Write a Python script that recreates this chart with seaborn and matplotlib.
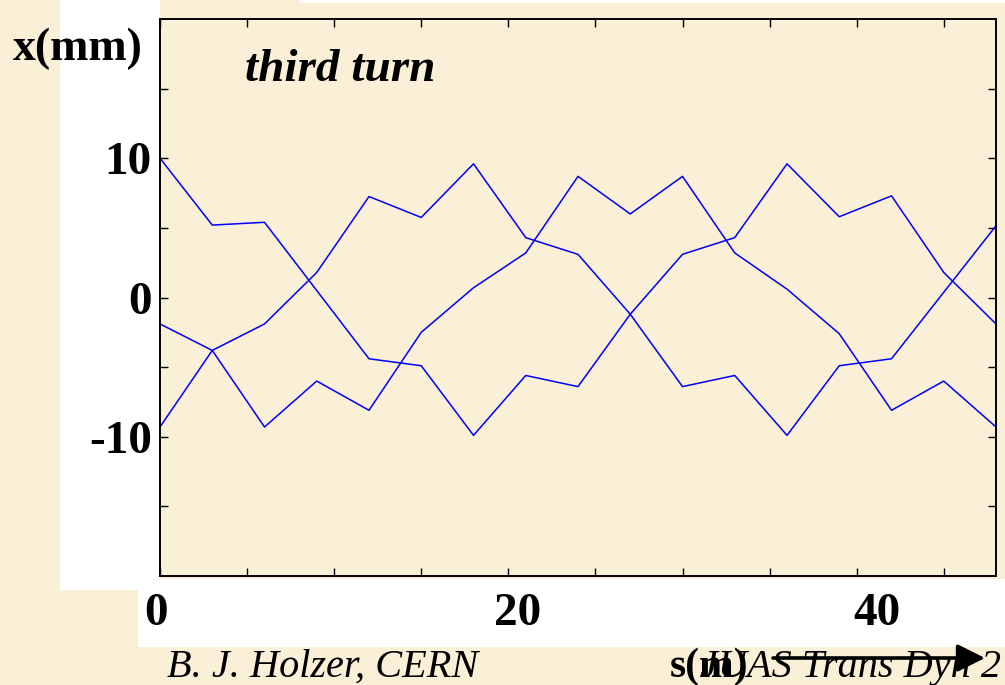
import numpy as np
import pandas as pd
import seaborn as sns
import matplotlib
matplotlib.use("Agg")
import matplotlib.pyplot as plt
from matplotlib.patches import Rectangle
from matplotlib.transforms import ScaledTranslation

# ---- data ----
s_traj1 = [0, 3, 6, 12, 15, 18, 21, 24, 27, 30, 33, 36, 39, 42, 45, 48]
x_traj1 = [10, 5.2, 5.4, -4.4, -4.9, -9.9, -5.6, -6.4, -1.2, 3.1, 4.3, 9.6, 5.8, 7.3, 1.8, -1.9]

s_traj2 = [0, 3, 6, 9, 12, 15, 18, 21, 24, 27, 30, 33, 36, 39, 42, 48]
x_traj2 = [-1.9, -3.8, -1.9, 1.8, 7.25, 5.75, 9.6, 4.3, 3.1, -1.2, -6.4, -5.6, -9.9, -4.9, -4.4, 5.15]

s_traj3 = [0, 3, 6, 9, 12, 15, 18, 21, 24, 27, 30, 33, 36, 39, 42, 45, 48]
x_traj3 = [-9.3, -3.8, -9.3, -6.0, -8.1, -2.5, 0.7, 3.2, 8.7, 6.0, 8.7, 3.2, 0.6, -2.6, -8.1, -6.0, -9.3]

x_ticks = [0, 5, 10, 15, 20, 25, 30, 35, 40, 45]
x_ticklabels = ["0", "", "", "", "20", "", "", "", "40", ""]
y_ticks = [-15, -10, -5, 0, 5, 10, 15]
y_ticklabels = ["", "-10", "", "0", "", "10", ""]

title_text = "third turn"
ylabel_text = "x(mm)"
xlabel_text = "s(m)"
footer_left = "B. J. Holzer, CERN"
footer_right = "JUAS Trans Dyn 2"

df = pd.concat([
    pd.DataFrame({"s": s_traj1, "x": x_traj1, "traj": "t1"}),
    pd.DataFrame({"s": s_traj2, "x": x_traj2, "traj": "t2"}),
    pd.DataFrame({"s": s_traj3, "x": x_traj3, "traj": "t3"}),
], ignore_index=True)

# ---- style ----
sns.set_theme(style="ticks")
plt.rcParams["font.family"] = ["Liberation Serif", "DejaVu Serif"]
plt.rcParams["text.color"] = "black"
plt.rcParams["xtick.color"] = "black"
plt.rcParams["ytick.color"] = "black"
plt.rcParams["axes.edgecolor"] = "black"

BG = "#FAF0D7"
W, H = 1005, 685
fig = plt.figure(figsize=(W / 100, H / 100), dpi=100, facecolor=BG)

def fx(px):
    return px / W

def fy(py):
    return 1 - py / H

# white blocks behind labels (drawn below the axes)
for (x0, y0, x1, y1) in [(60, 0, 160, 590), (138, 579, 1005, 647), (300, 0, 1005, 3)]:
    fig.patches.append(Rectangle((fx(x0), fy(y1)), fx(x1) - fx(x0), fy(y0) - fy(y1),
                                 transform=fig.transFigure, facecolor="white",
                                 edgecolor="none", zorder=-5))

ax = fig.add_axes([fx(160), fy(576), fx(996) - fx(160), fy(19) - fy(576)])
ax.set_facecolor(BG)
ax.set_zorder(2)

sns.lineplot(data=df, x="s", y="x", hue="traj", units="traj", estimator=None, sort=False,
             palette=["#0000FF"] * 3, linewidth=1.1, legend=False, ax=ax)

ax.set_xlim(0, 48)
ax.set_ylim(-20, 20)
ax.set_xlabel("")
ax.set_ylabel("")

ax.set_xticks(x_ticks)
ax.set_xticklabels(x_ticklabels)
ax.set_yticks(y_ticks)
ax.set_yticklabels(y_ticklabels)

ax.tick_params(axis="both", direction="in", length=6, width=1.0, color="black",
               top=True, right=True, labelsize=34, labelcolor="black")
ax.tick_params(axis="x", pad=12.5)
ax.tick_params(axis="y", pad=6)
for lab in ax.get_xticklabels() + ax.get_yticklabels():
    lab.set_fontweight("bold")

for sp in ax.spines.values():
    sp.set_visible(True)
    sp.set_linewidth(1.4)
    sp.set_color("black")

# shift x tick labels slightly as in the reference
offsets_px = {"0": -4, "20": 9, "40": 20}
for tick in ax.xaxis.get_major_ticks():
    t = tick.label1.get_text()
    if t in offsets_px:
        tick.label1.set_transform(tick.label1.get_transform()
                                  + ScaledTranslation(offsets_px[t] / 100, 0, fig.dpi_scale_trans))

# texts
fig.text(fx(13), fy(60), ylabel_text, fontsize=33, fontweight="bold", ha="left", va="baseline",
         color="black", zorder=5)
fig.text(fx(245), fy(81), title_text, fontsize=34, fontweight="bold", fontstyle="italic",
         ha="left", va="baseline", color="black", zorder=5)
fig.text(fx(167), fy(677), footer_left, fontsize=29, fontstyle="italic", ha="left",
         va="baseline", color="black", zorder=5)
fig.text(fx(700), fy(677), footer_right, fontsize=29, fontstyle="italic", ha="left",
         va="baseline", color="black", zorder=5)
fig.text(fx(670), fy(677), xlabel_text, fontsize=30, fontweight="bold", ha="left",
         va="baseline", color="black", zorder=6)

ax.annotate("", xy=(fx(985), fy(658)), xytext=(fx(773), fy(658)), xycoords="figure fraction",
            textcoords="figure fraction",
            arrowprops=dict(arrowstyle="-|>,head_length=0.6,head_width=0.3", lw=2.6,
                            color="black", shrinkA=0, shrinkB=0, mutation_scale=28),
            annotation_clip=False)

fig.savefig("out.png", dpi=100, facecolor=BG)
